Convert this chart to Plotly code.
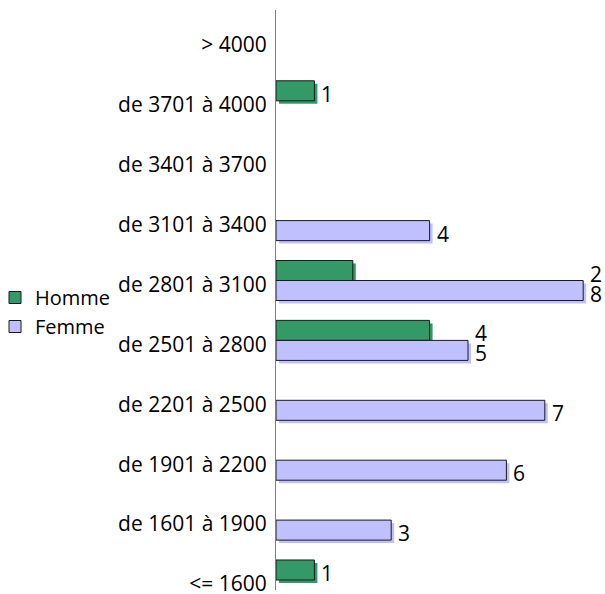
import plotly.graph_objects as go

categories = ["<= 1600", "de 1601 à 1900", "de 1901 à 2200", "de 2201 à 2500",
              "de 2501 à 2800", "de 2801 à 3100", "de 3101 à 3400",
              "de 3401 à 3700", "de 3701 à 4000", "> 4000"]
homme = [1, None, None, None, 4, 2, None, None, 1, None]
femme = [None, 3, 6, 7, 5, 8, 4, None, None, None]

GREEN = "#339966"
LAVENDER = "#C0C0FF"
FONT = "Open Sans"
FS = 21

W = 0.334          # bar thickness in category units
PX_X = 38.4        # px per unit on value axis
PX_Y = 59.9        # px per category
SH_X = 3 / PX_X    # shadow offsets
SH_Y = 3 / PX_Y
LBL_DY = 4 / PX_Y  # tick labels sit slightly below the category centre

ypos = list(range(len(categories)))

fig = go.Figure()

# shadows
for vals, col, off in [(homme, GREEN, 0), (femme, LAVENDER, -W)]:
    fig.add_trace(go.Bar(
        y=ypos, x=vals, base=SH_X, orientation="h",
        offset=off - SH_Y, width=W,
        marker=dict(color=col, line=dict(width=0)),
        showlegend=False, hoverinfo="skip"))

# main bars
fig.add_trace(go.Bar(
    name="Homme", y=ypos, x=homme, orientation="h", offset=0, width=W,
    marker=dict(color=GREEN, line=dict(color="#1a1a1a", width=1))))
fig.add_trace(go.Bar(
    name="Femme", y=ypos, x=femme, orientation="h", offset=-W, width=W,
    marker=dict(color=LAVENDER, line=dict(color="#1a1a1a", width=1))))

# value labels: placed at end of the longest bar of the category
for i, (h, f) in enumerate(zip(homme, femme)):
    m = max(v for v in (h, f, 0) if v is not None)
    if h is not None:
        fig.add_annotation(x=m + SH_X, y=i + W / 2, text=str(h), showarrow=False,
                           xanchor="left", yanchor="middle", xshift=2, yshift=-3,
                           font=dict(family=FONT, size=FS, color="#000"))
    if f is not None:
        fig.add_annotation(x=m + SH_X, y=i - W / 2, text=str(f), showarrow=False,
                           xanchor="left", yanchor="middle", xshift=2, yshift=-3,
                           font=dict(family=FONT, size=FS, color="#000"))

L, R, T, B = 276, 0, 10, 4
plot_w = 605 - L - R
plot_h = 594 - T - B

fig.update_layout(
    width=605, height=594,
    margin=dict(l=L, r=R, t=T, b=B, autoexpand=False),
    paper_bgcolor="white", plot_bgcolor="white",
    barmode="overlay",
    font=dict(family=FONT, size=FS, color="#000"),
    showlegend=True,
    legend=dict(xref="paper", yref="container", x=(-5 - L) / plot_w, xanchor="left",
                y=1 - 312 / 594, yanchor="middle",
                font=dict(family=FONT, size=20), itemwidth=30,
                bgcolor="rgba(0,0,0,0)", tracegroupgap=0),
    xaxis=dict(range=[0, plot_w / PX_X], visible=False, fixedrange=True),
    yaxis=dict(range=[-10 / PX_Y, -10 / PX_Y + plot_h / PX_Y],
               tickmode="array", tickvals=[p - LBL_DY for p in ypos], ticktext=categories,
               showline=True, linecolor="#808080", linewidth=1, automargin=False,
               ticks="", showgrid=False, zeroline=False, ticklabelstandoff=4,
               ticklabeloverflow="allow",
               tickfont=dict(family=FONT, size=FS, color="#000"), fixedrange=True),
)

fig.write_html("out.html", config={"displayModeBar": False, "staticPlot": True},
               post_script="document.body.style.margin='0';document.body.style.padding='0';")
